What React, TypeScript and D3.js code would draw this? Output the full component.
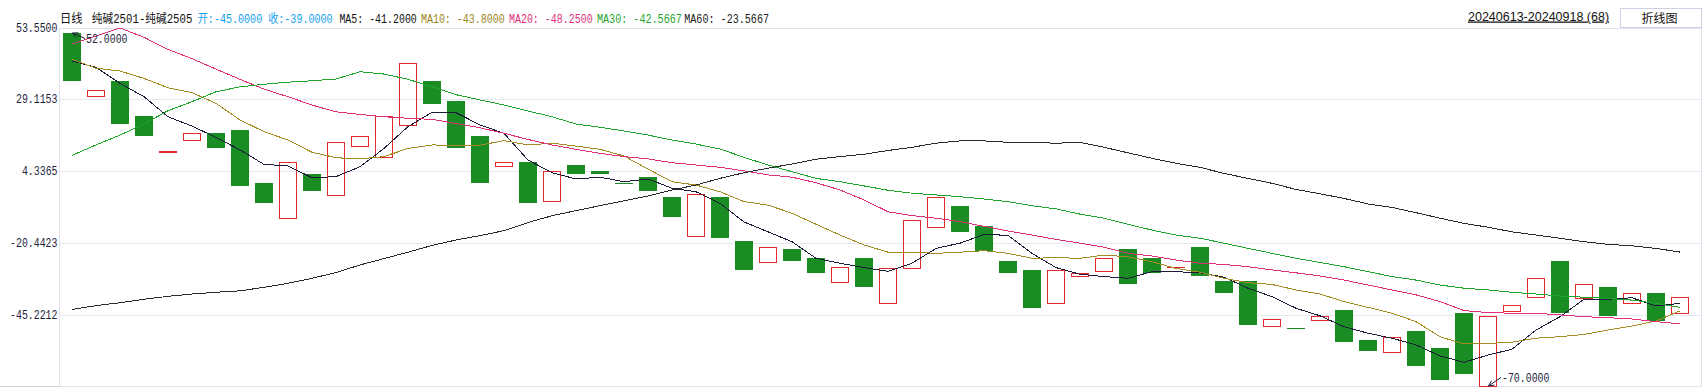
import React from 'react';
import * as d3 from 'd3';

// ---- data ----
const period = '日线';
const seriesName = '纯碱2501-纯碱2505';
const startDate = '20240613';
const endDate = '20240918';
const chartTypeButton = '折线图';

const opens = [
  52, 29.7, 35.3, 23.3, 10.4, 14.6, 17.4, 18.4, 0.2, -12.2,
  3.3, -4.4, 12.5, 8.7, 19.7, 35.3, 28.4, 16.4, 5.6, 7.4,
  -6.4, 6.4, 4.3, 0.1, 2.3, -4.6, -18.5, -4.6, -19.8, -27.4,
  -22.5, -25.6, -34.3, -25.6, -41.5, -29.5, -15.4, -7.7, -14.6, -26.6,
  -29.7, -41.5, -32.2, -30.5, -22.5, -25.6, -28.9, -21.8, -33.5, -33.5,
  -49.5, -49.8, -47.4, -43.5, -53.8, -58.4, -50.7, -56.6, -44.5, -70,
  -44.3, -39.5, -26.6, -39.6, -35.6, -41.5, -37.6, -45,
];
const closes = [
  35.4, 32.1, 20.6, 16.5, 11.1, 17.4, 12.4, -0.7, -6.6, 7.3,
  -2.4, 14.2, 16.3, 23.2, 41.4, 27.5, 12.4, 0.3, 7.3, -6.6,
  4.2, 3.4, 3.4, 0.1, -2.4, -11.4, -3.7, -18.6, -29.6, -21.9,
  -26.5, -30.7, -28.8, -35.5, -28.9, -12.6, -4.6, -16.6, -23.3, -30.7,
  -42.7, -29.7, -30.9, -25.7, -34.4, -30.7, -28.7, -31.7, -37.5, -48.6,
  -46.7, -49.8, -45.7, -54.4, -57.5, -52.9, -62.7, -67.5, -65.4, -45.7,
  -41.9, -32.6, -44.4, -34.7, -45.5, -37.8, -47.4, -39,
];
const ma5 = [
  42.2, 40.0, 34.5, 29.9, 23.0, 19.8, 15.9, 11.6, 6.6, 6.1,
  2.0, 2.4, 5.8, 12.1, 19.6, 24.5, 24.4, 20.2, 17.3, 8.1,
  3.75, 1.6, 2.2, 0.65, 1.6, -1.6, -2.8, -6.8, -13.2, -16.6,
  -20.0, -25.7, -27.4, -28.9, -30.2, -27.4, -22.3, -20.5, -17.5, -17.8,
  -24.0, -28.9, -31.2, -32.0, -32.6, -30.3, -30.3, -30.7, -32.2, -36.0,
  -38.9, -42.9, -45.5, -49.25, -51.5, -53.2, -55.5, -59.3, -61.5, -59.0,
  -57.0, -50.4, -45.8, -39.8, -39.8, -39.3, -42.1, -41.2,
];
const ma10 = [
  42.8, 39.7, 38.75, 36.2, 33.0, 31.3, 27.6, 21.9, 17.9, 15.0,
  10.8, 8.9, 8.5, 9.3, 12.1, 13.3, 13.2, 13.2, 14.8, 13.3,
  13.9, 12.9, 11.8, 9.5, 5.0, 0.65, -0.5, -2.8, -6.2, -7.4,
  -10.2, -14.0, -17.7, -21.1, -23.6, -23.6, -24.0, -23.6, -23.1, -24.0,
  -25.7, -25.5, -25.7, -24.6, -25.2, -26.9, -29.2, -30.5, -32.6, -34.1,
  -34.7, -36.6, -38.0, -40.6, -42.6, -44.6, -47.5, -52.7, -55.2, -55.0,
  -54.6, -53.2, -52.7, -51.9, -50.4, -49.0, -47.3, -43.8,
];
const ma20 = [
  48.0, 50.8, 53.55, 50.35, 46.2, 43.0, 39.4, 35.9, 32.5, 29.9,
  27.05, 24.7, 23.8, 23.0, 22.5, 22.1, 20.7, 19.2, 17.3, 15.2,
  13.3, 11.8, 10.4, 9.3, 8.5, 7.2, 6.4, 5.6, 4.4, 3.0,
  2.2, 0.3, -2.2, -5.6, -9.7, -11.0, -11.9, -13.1, -14.7, -16.3,
  -17.7, -19.2, -20.5, -21.9, -24.0, -24.9, -26.3, -27.4, -27.8, -28.6,
  -29.7, -30.7, -31.8, -33.2, -34.9, -36.6, -38.3, -40.6, -43.7, -44.4,
  -44.6, -44.6, -45.2, -45.8, -46.15, -46.6, -47.5, -48.25,
];
const ma30 = [
  9.7, 13.3, 16.7, 20.5, 25.1, 28.2, 31.6, 33.3, 34.2, 34.9,
  35.4, 36.0, 38.5, 37.7, 35.9, 33.3, 30.6, 28.8, 27.05, 25.0,
  23.0, 20.5, 19.4, 18.1, 16.7, 15.0, 13.6, 11.9, 9.05, 6.4,
  4.1, 1.8, 0.65, -0.8, -2.3, -3.3, -3.9, -4.5, -5.3, -6.2,
  -7.6, -8.7, -10.5, -11.9, -14.0, -16.0, -17.7, -18.8, -20.5, -22.3,
  -24.0, -25.7, -27.15, -28.6, -30.3, -32.0, -33.2, -34.9, -36.0, -36.6,
  -37.4, -38.0, -38.7, -39.1, -39.5, -40.1, -41.2, -42.5667,
];
const ma60 = [
  -43.3, -42.0, -41.0, -39.8, -38.8, -38.0, -37.4, -36.9, -35.7, -34.3,
  -32.6, -30.6, -28.0, -25.8, -23.6, -21.3, -19.4, -17.9, -16.2, -13.4,
  -11.05, -9.3, -7.6, -5.9, -4.3, -2.2, -0.5, 1.8, 3.75, 5.3,
  6.75, 8.4, 9.3, 10.1, 11.4, 12.5, 13.9, 14.7, 14.7, 14.2,
  14.2, 13.9, 14.2, 12.5, 10.6, 8.7, 7.0, 5.6, 3.5, 1.8,
  0.1, -2.0, -3.5, -5.1, -7.0, -8.2, -10.0, -11.9, -13.7, -15.0,
  -16.6, -17.7, -18.8, -20.0, -20.9, -21.4, -22.3, -23.5667,
];
const tickValues = [53.55, 29.1153, 4.3365, -20.4423, -45.2212];

const maSeries = [
  { name: 'MA5', values: ma5, color: '#1c1c3a', text: '#111111' },
  { name: 'MA10', values: ma10, color: '#a38b22', text: '#9c861c' },
  { name: 'MA20', values: ma20, color: '#e0307a', text: '#e0307a' },
  { name: 'MA30', values: ma30, color: '#1fa52c', text: '#1fa52c' },
  { name: 'MA60', values: ma60, color: '#2a2a2a', text: '#222222' },
];

const RED = '#e3282f';
const GREEN = '#1a8c24';
const GRID = '#e6e6f0';
const AXIS_TXT = '#1e1e3c';
const MONO = '"Liberation Mono", "Noto Sans CJK SC", monospace';

const fmt = (v: number) => v.toFixed(4);

// natural width of a string in Liberation Mono (0.6em) with CJK fallback (1em)
function naturalWidth(s: string, fontSize: number) {
  let w = 0;
  for (const ch of s) w += (ch.codePointAt(0) as number) >= 0x2e80 ? 1 : 0.6;
  return w * fontSize;
}

function FitText({
  x,
  y,
  len,
  text,
  fill,
  fontSize = 12,
}: {
  x: number;
  y: number;
  len: number;
  text: string;
  fill: string;
  fontSize?: number;
}) {
  const sx = len / naturalWidth(text, fontSize);
  return (
    <text
      transform={`translate(${x},${y}) scale(${sx},1)`}
      fontFamily={MONO}
      fontSize={fontSize}
      fill={fill}
    >
      {text}
    </text>
  );
}

function Arrow({ tip, from }: { tip: [number, number]; from: [number, number] }) {
  const dx = from[0] - tip[0];
  const dy = from[1] - tip[1];
  const L = Math.hypot(dx, dy);
  const ux = dx / L, uy = dy / L;
  const rot = (a: number): [number, number] => [
    tip[0] + 6 * (ux * Math.cos(a) - uy * Math.sin(a)),
    tip[1] + 6 * (ux * Math.sin(a) + uy * Math.cos(a)),
  ];
  const a1 = rot(0.45);
  const a2 = rot(-0.45);
  return (
    <g stroke={AXIS_TXT} strokeWidth={1} fill="none">
      <line x1={from[0]} y1={from[1]} x2={tip[0]} y2={tip[1]} />
      <path d={`M${a1[0]},${a1[1]}L${tip[0]},${tip[1]}L${a2[0]},${a2[1]}`} />
    </g>
  );
}

export default function App() {
  React.useEffect(() => {
    document.body.style.margin = '0';
    document.body.style.overflow = 'hidden';
  }, []);

  const W = 1702;
  const H = 391;
  const n = opens.length;
  const plotLeft = 59;
  const plotRight = 1701;
  const plotTop = 28;
  const plotBottom = 387;

  const highs = opens.map((o, i) => Math.max(o, closes[i]));
  const lows = opens.map((o, i) => Math.min(o, closes[i]));
  const allVals = [...highs, ...lows, ...maSeries.flatMap((s) => s.values)];
  const lo = d3.min(allVals) as number;
  const hi = d3.max(allVals) as number;

  const x = d3.scaleLinear().domain([0, n - 1]).range([72, 72 + 24 * (n - 1)]);
  const y = d3.scaleLinear().domain([lo, hi]).range([plotBottom, plotTop]);

  const line = d3
    .line<number>()
    .x((_, i) => x(i))
    .y((d) => y(d));

  const hiIdx = d3.maxIndex(highs);
  const loIdx = d3.minIndex(lows);
  const hiPt: [number, number] = [x(hiIdx), y(highs[hiIdx])];
  const loPt: [number, number] = [x(loIdx), y(lows[loIdx])];

  const last = n - 1;
  const titleParts = [
    { text: period, x: 60, len: 22.5, color: '#111111' },
    { text: seriesName, x: 91.8, len: 100.7, color: '#111111' },
    { text: `开:${fmt(opens[last])} 收:${fmt(closes[last])}`, x: 197.8, len: 135, color: '#14a0ee' },
    { text: `MA5: ${fmt(ma5[last])}`, x: 339.4, len: 77.5, color: maSeries[0].text },
    { text: `MA10: ${fmt(ma10[last])}`, x: 420.9, len: 84, color: maSeries[1].text },
    { text: `MA20: ${fmt(ma20[last])}`, x: 508.9, len: 84, color: maSeries[2].text },
    { text: `MA30: ${fmt(ma30[last])}`, x: 597, len: 85, color: maSeries[3].text },
    { text: `MA60: ${fmt(ma60[last])}`, x: 684.2, len: 85, color: maSeries[4].text },
  ];

  const charW = 5.93;

  return (
    <svg
      width={W}
      height={H}
      style={{ position: 'absolute', left: 0, top: 0, background: '#ffffff' }}
      xmlns="http://www.w3.org/2000/svg"
    >
      <rect x={0} y={0} width={W} height={H} fill="#ffffff" />

      {/* title bar */}
      {titleParts.map((p, i) => (
        <FitText key={i} x={p.x} y={22.5} len={p.len} text={p.text} fill={p.color} />
      ))}
      <text
        x={1468}
        y={20.5}
        fontFamily='"Liberation Sans", Arial, sans-serif'
        fontSize={12.5}
        fill="#111111"
        textDecoration="underline"
      >
        {`${startDate}-${endDate} (${n})`}
      </text>
      <rect x={1620.5} y={8.5} width={81} height={19} fill="#ffffff" stroke="#cfcfe6" strokeWidth={1} />
      <text
        x={1659.5}
        y={22.5}
        textAnchor="middle"
        fontFamily='"Noto Sans CJK SC", sans-serif'
        fontSize={12}
        fill="#111111"
      >
        {chartTypeButton}
      </text>

      {/* frame and grid */}
      <g shapeRendering="crispEdges">
        {tickValues.slice(1).map((t) => (
          <line
            key={t}
            x1={plotLeft}
            x2={plotRight}
            y1={Math.round(y(t)) + 0.5}
            y2={Math.round(y(t)) + 0.5}
            stroke={GRID}
          />
        ))}
        <line x1={plotLeft} x2={W} y1={plotTop + 0.5} y2={plotTop + 0.5} stroke="#e2e2ee" />
        <line x1={plotLeft} x2={plotRight} y1={plotBottom - 0.5} y2={plotBottom - 0.5} stroke="#e4e4ee" />
        <line x1={0} x2={plotLeft} y1={plotBottom - 0.5} y2={plotBottom - 0.5} stroke="#d2d2d2" />
        <line x1={plotLeft + 0.5} x2={plotLeft + 0.5} y1={plotTop} y2={plotBottom} stroke="#e2e2ee" />
        <line x1={plotRight + 0.5} x2={plotRight + 0.5} y1={plotTop} y2={plotBottom} stroke="#e2e2ee" />
      </g>

      {/* y axis labels */}
      {tickValues.map((t) => {
        const s = fmt(t);
        const len = s.length * charW;
        return <FitText key={t} x={57.5 - len} y={y(t) + 4} len={len} text={s} fill={AXIS_TXT} />;
      })}

      {/* candles */}
      <g shapeRendering="crispEdges">
        {opens.map((o, i) => {
          const c = closes[i];
          const left = Math.round(x(i)) - 9;
          const t = Math.round(y(Math.max(o, c)));
          const b = Math.round(y(Math.min(o, c)));
          if (c > o) {
            if (b - t >= 2) {
              return (
                <rect
                  key={i}
                  x={left + 0.5}
                  y={t + 0.5}
                  width={17}
                  height={b - t - 1}
                  fill="none"
                  stroke={RED}
                  strokeWidth={1}
                />
              );
            }
            return <line key={i} x1={left} x2={left + 18} y1={t + 0.5} y2={t + 0.5} stroke={RED} />;
          }
          return <rect key={i} x={left} y={t} width={18} height={Math.max(1, b - t)} fill={GREEN} />;
        })}
      </g>

      {/* moving averages */}
      <g fill="none" strokeWidth={1} shapeRendering="crispEdges">
        {maSeries.map((s) => (
          <path key={s.name} d={line(s.values) || ''} stroke={s.color} />
        ))}
      </g>

      {/* max / min markers */}
      <Arrow tip={[hiPt[0] + 0.5, hiPt[1] + 0.5]} from={[hiPt[0] + 13, hiPt[1] + 6]} />
      <Arrow tip={[loPt[0] + 0.5, loPt[1] - 1]} from={[loPt[0] + 13, loPt[1] - 9.5]} />
      <FitText
        x={hiPt[0] + 14}
        y={hiPt[1] + 6 + 4}
        len={fmt(highs[hiIdx]).length * charW}
        text={fmt(highs[hiIdx])}
        fill={AXIS_TXT}
      />
      <FitText
        x={loPt[0] + 14}
        y={loPt[1] - 9.3 + 4}
        len={fmt(lows[loIdx]).length * charW}
        text={fmt(lows[loIdx])}
        fill={AXIS_TXT}
      />
    </svg>
  );
}
